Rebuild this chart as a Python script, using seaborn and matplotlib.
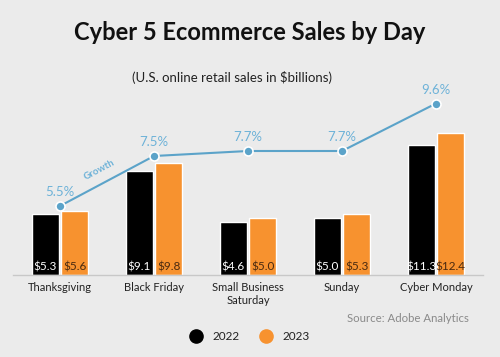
import numpy as np
import pandas as pd
import matplotlib.pyplot as plt
from matplotlib.lines import Line2D
import seaborn as sns

# data
days = ["Thanksgiving", "Black Friday", "Small Business\nSaturday", "Sunday", "Cyber Monday"]
years = ["2022", "2023"]
sales_2022 = [5.3, 9.1, 4.6, 5.0, 11.3]
sales_2023 = [5.6, 9.8, 5.0, 5.3, 12.4]
growth = [5.5, 7.5, 7.7, 7.7, 9.6]

bar_colors = {"2022": "#000000", "2023": "#f7922f"}
label_colors = {"2022": "#ffffff", "2023": "#4a2a10"}
line_color = "#5ba3c9"
pct_color = "#6db2d8"
bg = "#ebebeb"

df = pd.DataFrame({
    "day": days * 2,
    "year": [years[0]] * len(days) + [years[1]] * len(days),
    "sales": sales_2022 + sales_2023,
})

sns.set_theme(style="white")
plt.rcParams["font.family"] = ["Lato", "DejaVu Sans"]

fig = plt.figure(figsize=(5, 3.57), dpi=100, facecolor=bg)
ax = fig.add_axes([13 / 500, 1 - 275 / 357, 470 / 500, 180 / 357])
ax.set_facecolor("none")

sns.barplot(
    data=df, x="day", y="sales", hue="year",
    order=days, hue_order=years, palette=bar_colors,
    width=0.62, gap=0.1, saturation=1, legend=False, ax=ax,
)

# value labels at the bottom of each bar
for cont, yr in zip(ax.containers, years):
    for bar in cont:
        ax.text(
            bar.get_x() + bar.get_width() / 2, 0.25,
            f"${bar.get_height():.1f}",
            ha="center", va="bottom", fontsize=8.5, color=label_colors[yr],
        )

ax.set_xlim(-0.5, 4.5)
ax.set_ylim(0, 180 / 11.47)
ax.set_xlabel("")
ax.set_ylabel("")
ax.set_yticks([])
for s in ["top", "left", "right"]:
    ax.spines[s].set_visible(False)
ax.spines["bottom"].set_color("#c8c8c8")
ax.spines["bottom"].set_linewidth(1)
ax.tick_params(axis="x", length=0, pad=5, labelsize=8, labelcolor="#222222")

# growth line on a second axis
ax2 = ax.twinx()
sns.lineplot(
    x=np.arange(len(days)), y=growth, ax=ax2,
    color=line_color, linewidth=1.5, marker="o", markersize=6.5,
    markeredgecolor="white", markeredgewidth=1.2,
)
low = 5.5 - (275 - 206) / 25
ax2.set_ylim(low, low + 180 / 25)
ax2.set_yticks([])
ax2.set_xlim(-0.5, 4.5)
for s in ax2.spines.values():
    s.set_visible(False)

for i, g in enumerate(growth):
    ax2.annotate(
        f"{g}%", (i, g), xytext=(0, 10), textcoords="offset points",
        ha="center", va="center", fontsize=9.5, color=pct_color,
    )

# "Growth" tag along the first segment
gx = 0.45
gy = growth[0] + (growth[1] - growth[0]) * gx
ax2.annotate(
    "Growth", (gx, gy), xytext=(-2, 10), textcoords="offset points",
    ha="center", va="center", fontsize=7, fontweight="bold",
    color=pct_color, rotation=28,
)

fig.text(0.5, 1 - 33 / 357, "Cyber 5 Ecommerce Sales by Day",
         ha="center", va="center", fontsize=17, fontweight="bold", color="#111111")
fig.text(232 / 500, 1 - 77 / 357, "(U.S. online retail sales in $billions)",
         ha="center", va="center", fontsize=9.5, color="#222222")
fig.text(469 / 500, 1 - 318 / 357, "Source: Adobe Analytics",
         ha="right", va="center", fontsize=8.2, color="#8a8a8a")

handles = [
    Line2D([], [], marker="o", linestyle="none", markersize=9.5,
           markerfacecolor=bar_colors[y], markeredgecolor=bar_colors[y])
    for y in years
]
fig.legend(handles, years, loc="center", bbox_to_anchor=(247 / 500, 1 - 337 / 357),
           ncol=2, frameon=False, fontsize=8.5, handletextpad=0.4, columnspacing=1.2,
           labelcolor="#222222")

fig.savefig("out.png", dpi=100, facecolor=bg)
